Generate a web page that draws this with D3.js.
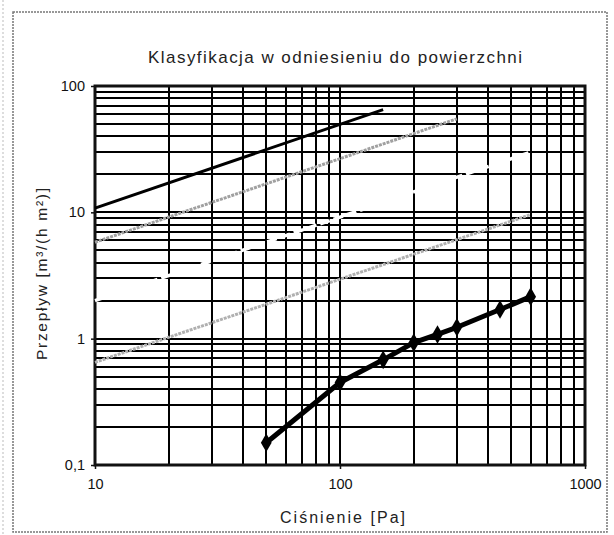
<!DOCTYPE html>
<html><head><meta charset="utf-8">
<script src="https://cdn.jsdelivr.net/npm/d3@7"></script>
<style>body{margin:0;background:#fff}svg{display:block}</style>
</head><body>
<svg id="c" width="614" height="535"></svg>
<script>
const title = "Klasyfikacja w odniesieniu do powierzchni";
const xLabel = "Ciśnienie [Pa]";
const yLabel = "Przepływ [m³/(h m²)]";
const xTicks = [10, 100, 1000];
const yTicks = [0.1, 1, 10, 100];
const yTickLabels = ["0,1", "1", "10", "100"];
// classification lines (pressure, flow)
const classA = [[10, 10.8], [150, 65]];
const classB = [[10, 5.8], [300, 55]];
const classC = [[10, 2.0], [600, 30]];
const classD = [[10, 0.65], [600, 9.6]];
// measured series
const measP = [50, 100, 150, 200, 250, 300, 450, 600];
const measQ = [0.15, 0.45, 0.68, 0.93, 1.08, 1.23, 1.7, 2.15];

const svg = d3.select("#c");
const L = 95, R = 585, T = 86, B = 465;
const x = d3.scaleLog().domain([10, 1000]).range([L, R]);
const y = d3.scaleLog().domain([0.1, 100]).range([B, T]);
const FONT = "Liberation Sans, Arial, sans-serif";

// outer frame
svg.append("rect").attr("x", 13).attr("y", 12).attr("width", 594).attr("height", 520)
  .attr("fill", "none").attr("stroke", "#777").attr("stroke-width", 1.5).attr("stroke-dasharray", "2,1");
svg.append("line").attr("x1", 3).attr("x2", 3).attr("y1", 0).attr("y2", 535)
  .attr("stroke", "#bbb").attr("stroke-width", 1).attr("stroke-dasharray", "2,2");

// grid
const xGrid = [];
for (let d = 10; d < 1000; d *= 10) for (let k = 1; k <= 9; k++) xGrid.push(d * k);
const yGrid = [];
for (let d = 0.1; d < 100; d *= 10) for (let k = 1; k <= 9; k++) yGrid.push(+(d * k).toPrecision(3));
const g = svg.append("g").attr("shape-rendering", "crispEdges");
g.selectAll(".vx").data(xGrid).join("line")
  .attr("x1", d => x(d)).attr("x2", d => x(d)).attr("y1", T).attr("y2", B)
  .attr("stroke", "#000").attr("stroke-width", 2);
g.selectAll(".hy").data(yGrid).join("line")
  .attr("y1", d => y(d)).attr("y2", d => y(d)).attr("x1", L).attr("x2", R)
  .attr("stroke", "#000").attr("stroke-width", 2);

// axes
const xAxis = d3.axisBottom(x).tickValues(xTicks).tickFormat(d3.format("d")).tickSize(4).tickPadding(10);
const yAxis = d3.axisLeft(y).tickValues(yTicks).tickFormat((d, i) => yTickLabels[i]).tickSize(4).tickPadding(6);
const gx = svg.append("g").attr("transform", `translate(0,${B})`).call(xAxis);
const gy = svg.append("g").attr("transform", `translate(${L},0)`).call(yAxis);
[gx, gy].forEach(a => {
  a.select(".domain").remove();
  a.selectAll("text").attr("font-family", FONT).attr("font-size", 14.5).attr("fill", "#111");
  a.selectAll("line").attr("stroke", "#111").attr("stroke-width", 1.5);
});

// plot frame
svg.append("rect").attr("x", L).attr("y", T).attr("width", R - L).attr("height", B - T)
  .attr("fill", "none").attr("stroke", "#111").attr("stroke-width", 3);

const line = d3.line().x(d => x(d[0])).y(d => y(d[1]));
svg.append("path").datum(classA).attr("d", line).attr("fill", "none").attr("stroke", "#000").attr("stroke-width", 3);
svg.append("path").datum(classB).attr("d", line).attr("fill", "none").attr("stroke", "#a0a0a0").attr("stroke-width", 3).attr("stroke-dasharray", "3,1");
svg.append("path").datum(classC).attr("d", line).attr("fill", "none").attr("stroke", "#fff").attr("stroke-width", 3.5).attr("stroke-dasharray", "10,4");
svg.append("path").datum(classD).attr("d", line).attr("fill", "none").attr("stroke", "#b0b0b0").attr("stroke-width", 3).attr("stroke-dasharray", "3,1");

const meas = measP.map((p, i) => [p, measQ[i]]);
svg.append("path").datum(meas).attr("d", line)
  .attr("fill", "none").attr("stroke", "#000").attr("stroke-width", 5).attr("stroke-linejoin", "round");
svg.selectAll(".mk").data(meas).join("path")
  .attr("transform", d => `translate(${x(d[0])},${y(d[1])})`)
  .attr("d", d3.symbol().type(d3.symbolDiamond).size(100)).attr("fill", "#000");

// texts
svg.append("text").attr("x", 148).attr("y", 63)
  .attr("textLength", 374).attr("lengthAdjust", "spacing")
  .attr("font-family", FONT).attr("font-size", 17).attr("fill", "#222").text(title);
svg.append("text").attr("x", 280).attr("y", 523)
  .attr("textLength", 125).attr("lengthAdjust", "spacing")
  .attr("font-family", FONT).attr("font-size", 16).attr("fill", "#222").text(xLabel);
svg.append("text").attr("transform", "translate(47,360) rotate(-90)")
  .attr("textLength", 172).attr("lengthAdjust", "spacing")
  .attr("font-family", FONT).attr("font-size", 15.5).attr("fill", "#222").text(yLabel);
</script>
</body></html>
